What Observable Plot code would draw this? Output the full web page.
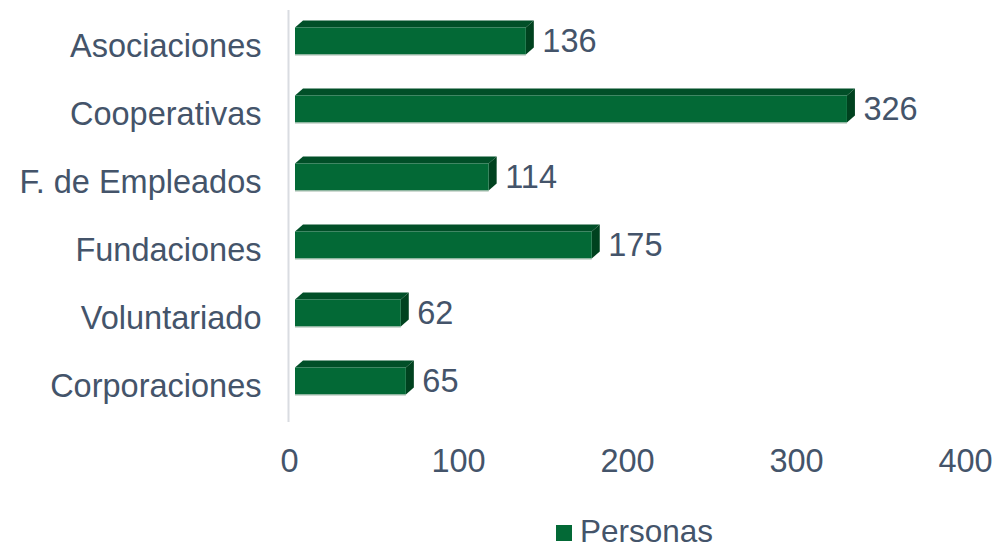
<!DOCTYPE html>
<html>
<head>
<meta charset="utf-8">
<script src="https://cdn.jsdelivr.net/npm/d3@7"></script>
<script src="https://cdn.jsdelivr.net/npm/@observablehq/plot@0.6"></script>
<style>
  html, body { margin: 0; padding: 0; background: #fff; overflow: hidden; }
  #wrap { position: relative; width: 997px; height: 549px; font-family: "Liberation Sans", Arial, sans-serif; color: #44546A; }
  #chart svg { display: block; }
  #legend { position: absolute; left: 556px; top: 516px; height: 30px; line-height: 30px; display: flex; align-items: center; font-size: 31.5px; }
  #legend .sw { width: 16px; height: 16px; background: #036936; margin-right: 8px; margin-top: 3px; }
</style>
</head>
<body>
<div id="wrap">
  <div id="chart"></div>
  <div id="legend"><span class="sw"></span><span id="legendText"></span></div>
</div>
<script>
const categories = ["Asociaciones", "Cooperativas", "F. de Empleados", "Fundaciones", "Voluntariado", "Corporaciones"];
const values = [136, 326, 114, 175, 62, 65];
const seriesName = "Personas";
const xTicks = [0, 100, 200, 300, 400];

const data = categories.map((c, i) => ({category: c, value: values[i]}));

const colFront = "#036936", colTop = "#014F28", colSide = "#00421F";

function bars3d(index, scales, vals, dims, ctx) {
  const g = d3.create("svg:g");
  const bw = scales.y.bandwidth ? scales.y.bandwidth() : 0;
  const x0 = scales.x(0);
  const dx = 8, dy = 7;
  for (const i of index) {
    const d = data[i];
    const c = scales.y(d.category) + bw / 2 - 5;
    const top = c - 13.5, bot = c + 13.5;
    const L = x0 + 6, R = scales.x(d.value) + 7;
    g.append("path").attr("fill", colTop)
      .attr("d", `M${L},${top}L${L + dx},${top - dy}L${R + dx},${top - dy}L${R},${top}Z`);
    g.append("path").attr("fill", colSide)
      .attr("d", `M${R},${top}L${R + dx},${top - dy}L${R + dx},${bot - dy}L${R},${bot}Z`);
    g.append("rect").attr("fill", colFront)
      .attr("x", L).attr("y", top).attr("width", R - L).attr("height", bot - top);
    g.append("line").attr("stroke", "#9fb8a8").attr("stroke-width", 1)
      .attr("x1", L).attr("x2", R).attr("y1", bot + 0.5).attr("y2", bot + 0.5);
  }
  return g.node();
}

const plot = Plot.plot({
  width: 997,
  height: 500,
  marginLeft: 289,
  marginRight: 32,
  marginTop: 10,
  marginBottom: 78,
  style: {fontSize: "32.5px", fontFamily: "'Liberation Sans', Arial, sans-serif", color: "#44546A", background: "#fff"},
  x: {domain: [0, 400], ticks: xTicks},
  y: {domain: categories, padding: 0},
  marks: [
    Plot.ruleX([0], {stroke: "#D9DCE1", strokeWidth: 2, dx: -1}),
    Plot.barX(data, {x: "value", y: "category", render: bars3d}),
    Plot.text(data, {x: "value", y: "category", text: d => String(d.value), textAnchor: "start", dx: 23, dy: -5, fill: "#44546A"}),
    Plot.axisX({ticks: xTicks, tickSize: 0, tickPadding: 26, label: null, tickFormat: d => String(d)}),
    Plot.axisY({tickSize: 0, tickPadding: 28, label: null})
  ]
});
document.getElementById("chart").appendChild(plot);
document.getElementById("legendText").textContent = seriesName;
</script>
</body>
</html>
